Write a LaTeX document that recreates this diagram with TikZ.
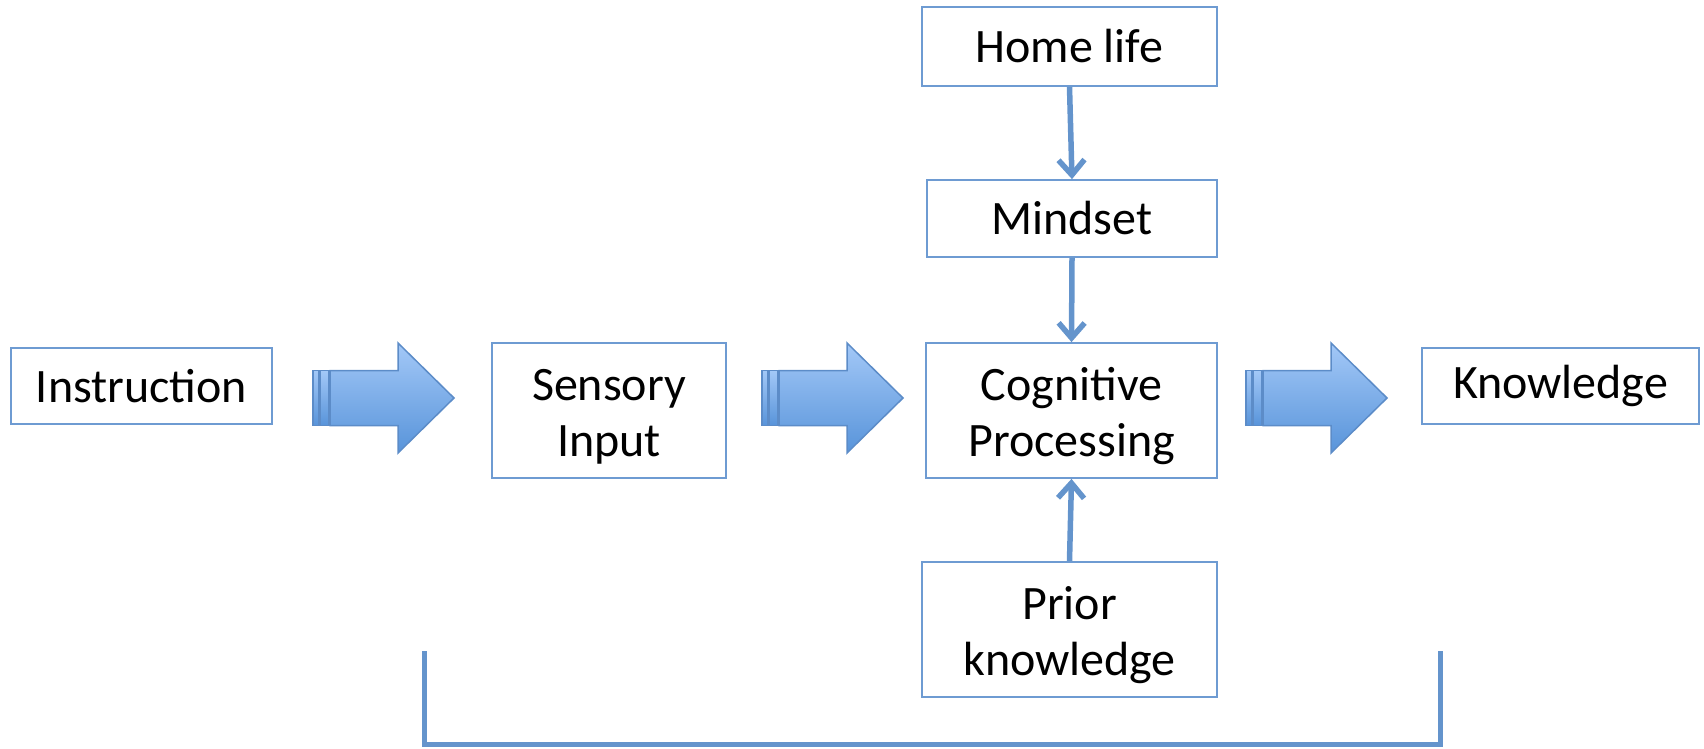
\documentclass[tikz,border=0pt]{standalone}
\usepackage{fontspec}
\setmainfont{Carlito}
\usetikzlibrary{arrows.meta}
\definecolor{boxline}{RGB}{110,155,210}
\definecolor{linkblue}{RGB}{100,148,204}
\definecolor{arrowtop}{RGB}{163,200,247}
\definecolor{arrowbot}{RGB}{88,148,218}
\definecolor{arrowedge}{RGB}{92,140,200}
\newcommand{\twolines}[2]{\raisebox{-7pt}[\height][\depth]{\begin{tabular}{@{}c@{}}#1\\#2\end{tabular}}}
\tikzset{box/.style={rectangle,draw=boxline,line width=1.8pt,align=center,inner sep=0pt}}
\tikzset{link/.style={draw=linkblue,line width=5.5pt,-{Straight Barb[length=15pt,width=26pt,line width=0pt 1]}}}
\tikzset{blockarrow/.style={draw=arrowedge,line width=1.5pt,top color=arrowtop,bottom color=arrowbot}}

\begin{document}
\begin{tikzpicture}[x=1pt,y=-1pt,font=\fontsize{48}{56}\selectfont]
      \useasboundingbox (0,0) rectangle (1704,749);
      \node[box,minimum width=261pt,minimum height=76pt] (instr) at (141.5,386) {Instruction};
      \node[box,minimum width=234pt,minimum height=135pt] (sens) at (609,410.5) {\twolines{Sensory}{Input}};
      \node[box,minimum width=291pt,minimum height=135pt] (cog) at (1071.5,410.5) {\twolines{Cognitive}{Processing}};
      \node[box,minimum width=277pt,minimum height=76pt] (know) at (1560.5,386) {Knowledge};
      \node[box,minimum width=295pt,minimum height=79pt] (home) at (1069.5,46.5) {Home life};
      \node[box,minimum width=290pt,minimum height=77pt] (mind) at (1072,218.5) {Mindset};
      \node[box,minimum width=295pt,minimum height=135pt] (prior) at (1069.5,629.5) {\twolines{Prior}{knowledge}};
        \draw[link] (home.south) -- (mind.north);
        \draw[link] (mind.south) -- (cog.north);
        \draw[link] (prior.north) -- (cog.south);
      % striped block arrows
      \foreach \x in {313,762,1246} {
        \draw[blockarrow] (\x,370.5) rectangle (\x+6,425.5);
        \draw[blockarrow] (\x+7,370.5) rectangle (\x+16,425.5);
        \draw[blockarrow] (\x+17,370.5) -- (\x+85,370.5) -- (\x+85,343) -- (\x+141,398)
          -- (\x+85,453) -- (\x+85,425.5) -- (\x+17,425.5) -- cycle;
      }
      % bracket under the chain
      \coordinate (bl) at (424,651);
      \coordinate (br) at (1440,651);
      \draw[draw=linkblue,line width=5pt] (bl) -- (bl |- 0,744) -- (br |- 0,744) -- (br);
    \end{tikzpicture}
\end{document}
